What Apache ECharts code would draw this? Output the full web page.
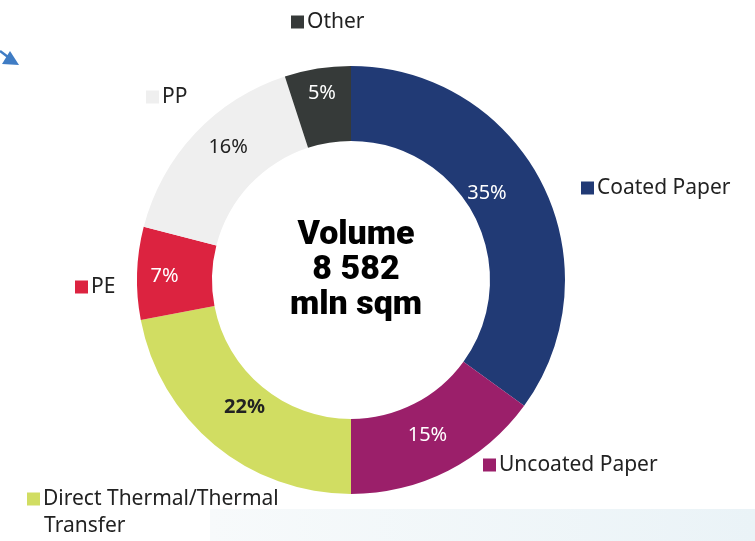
<!DOCTYPE html>
<html>
<head>
  <meta charset="UTF-8">
  <title>Volume by material</title>
  <style>
    html, body { margin: 0; padding: 0; background: #fff; }
    #chart { width: 755px; height: 541px; }
  </style>
  <script src="https://cdn.jsdelivr.net/npm/echarts@6/dist/echarts.min.js"></script>
</head>
<body>
  <div id="chart"></div>
  <script>
    var categories = ['Coated Paper', 'Uncoated Paper', 'Direct Thermal/Thermal Transfer', 'PE', 'PP', 'Other'];
    var shares = [35, 15, 22, 7, 16, 5];
    var colors = ['#213a75', '#9b1f6a', '#d1dd62', '#dc2340', '#efefef', '#363a39'];
    var labelColors = ['#fff', '#fff', '#222', '#fff', '#222', '#fff'];
    var centerLines = ['Volume', '8 582', 'mln sqm'];

    // where each legend entry sits around the ring
    var legendPos = [
      { left: 581, top: 176 },
      { left: 483, top: 453 },
      { left: 27, top: 487 },
      { left: 75, top: 275 },
      { left: 146, top: 85 },
      { left: 291, top: 10 }
    ];
    // nudges for the % labels inside the ring
    var labelOffsets = [[-24, -5], [-5, -5], [8, -11], [-7, 2], [8, -10], [-1, -9]];

    var chart = echarts.init(document.getElementById('chart'));

    var legends = categories.map(function (c, i) {
      return {
        data: [c],
        left: legendPos[i].left,
        top: legendPos[i].top,
        icon: 'rect',
        itemWidth: 13,
        itemHeight: 13,
        padding: 0,
        selectedMode: false,
        formatter: function (name) {
          return name.replace(' Transfer', '');
        },
        textStyle: {
          color: '#222',
          fontSize: 21,
          fontFamily: 'Noto Sans',
          padding: [0, 0, 0, -2],
          lineHeight: 24
        }
      };
    });

    var option = {
      animation: false,
      color: colors,
      title: {
        text: centerLines.join('\n'),
        left: 351,
        top: 213,
        textAlign: 'center',
        textStyle: {
          fontFamily: 'Roboto',
          fontWeight: 900,
          fontSize: 34,
          lineHeight: 35,
          color: '#000'
        }
      },
      legend: legends,
      graphic: [
        {
          type: 'rect',
          z: -1,
          shape: { x: 210, y: 509, width: 545, height: 32 },
          style: {
            fill: new echarts.graphic.LinearGradient(0, 0, 1, 0, [
              { offset: 0, color: '#f7fafb' },
              { offset: 1, color: '#eaf3f7' }
            ])
          }
        },
        {
          type: 'text',
          left: 44,
          top: 516,
          style: {
            text: 'Transfer',
            fill: '#222',
            font: '21px "Noto Sans"'
          }
        },
        {
          type: 'line',
          shape: { x1: 0, y1: 51, x2: 12, y2: 60 },
          style: { stroke: '#3f7cc4', lineWidth: 2.5 }
        },
        {
          type: 'polygon',
          shape: { points: [[10, 51], [19, 65], [2, 64]] },
          style: { fill: '#3f7cc4' }
        }
      ],
      series: [
        {
          type: 'pie',
          center: [351, 280],
          radius: [139, 214],
          startAngle: 90,
          clockwise: true,
          label: {
            position: 'inside',
            formatter: '{c}%',
            fontFamily: 'Noto Sans',
            fontSize: 20
          },
          labelLine: { show: false },
          data: categories.map(function (c, i) {
            return {
              name: c,
              value: shares[i],
              label: {
                color: labelColors[i],
                offset: labelOffsets[i],
                fontWeight: i === 2 ? 'bold' : 'normal'
              }
            };
          })
        }
      ]
    };
    chart.setOption(option);
  </script>
</body>
</html>
